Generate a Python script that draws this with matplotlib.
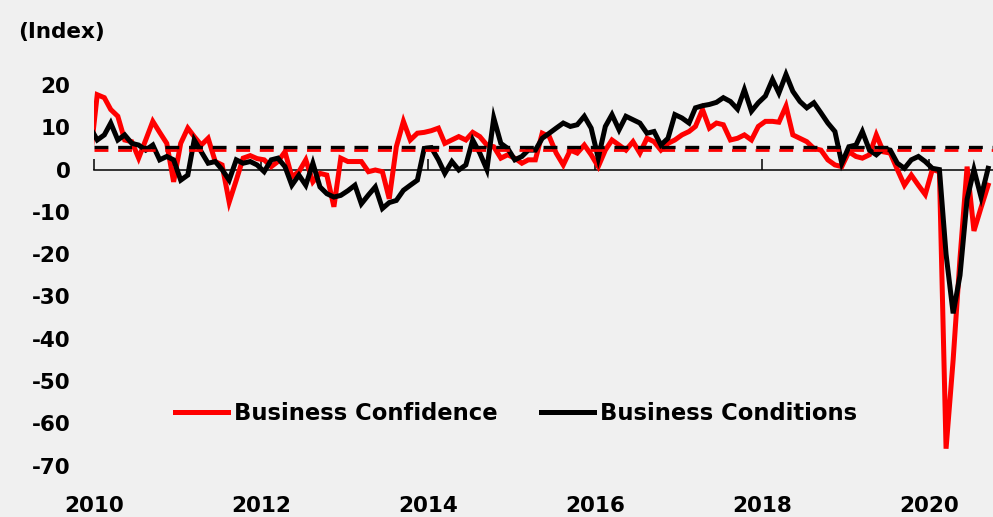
import matplotlib
matplotlib.use("Agg")
import matplotlib.pyplot as plt
import pandas as pd

# ── colours / fonts ───────────────────────────────────────────────────────────
C_BG    = "#f0f0f0"
C_CONF  = "#ff0000"
C_COND  = "#000000"
FONT    = "DejaVu Sans"
FS      = 15.5
FS_LEG  = 16.3

plt.rcParams["font.family"] = FONT
plt.rcParams["font.weight"] = "bold"
plt.rcParams["axes.unicode_minus"] = False

# ── data: monthly survey readings, Dec 2009 .. Sep 2020 ──────────────────────
start_month = "2009-12"
end_month   = "2020-09"

confidence = [
    2.5,
    17.7, 17.0, 14.2, 12.6, 7.0, 6.6, 2.7, 7.0, 11.4, 8.8, 6.2, -2.9,      # 2010
    6.2, 9.8, 7.8, 5.8, 7.4, 1.9, 1.1, -7.7, -2.5, 2.7, 3.3, 2.6,          # 2011
    2.3, 0.7, 1.9, 4.2, -1.7, -0.5, 2.3, -2.9, -0.9, -1.3, -8.8, 2.7,      # 2012
    1.9, 1.9, 1.9, -0.5, -0.1, -0.5, -6.9, 5.4, 11.4, 7.0, 8.6, 8.8,       # 2013
    9.2, 9.8, 6.2, 7.0, 7.8, 7.0, 8.8, 7.8, 5.8, 5.4, 2.7, 3.5,            # 2014
    2.7, 1.5, 2.3, 2.3, 8.6, 7.8, 3.9, 1.1, 4.6, 3.9, 5.8, 3.5,            # 2015
    0.7, 4.6, 7.0, 5.8, 4.6, 6.6, 3.9, 7.4, 6.6, 4.6, 6.2, 7.0,            # 2016
    8.2, 9.0, 10.2, 14.2, 9.8, 11.0, 10.6, 7.0, 7.4, 8.2, 7.0, 10.2,       # 2017
    11.4, 11.4, 11.2, 15.0, 8.2, 7.4, 6.6, 5.0, 4.6, 2.3, 1.1, 0.7,        # 2018
    4.2, 3.1, 2.7, 3.5, 8.2, 4.2, 3.9, 0.0, -3.7, -1.3, -3.7, -5.9,        # 2019
    0.0, -0.5, -66.0, -45.0, -21.0, 0.7, -14.5, -9.0, -3.7,                # 2020
]

conditions = [
    10.0,
    7.0, 8.2, 11.0, 7.0, 8.2, 6.2, 5.8, 4.6, 5.8, 2.3, 3.1, 2.3,           # 2010
    -2.5, -1.3, 7.0, 4.2, 1.5, 1.9, 0.0, -2.5, 2.3, 1.5, 1.9, 1.1,         # 2011
    -0.5, 2.3, 2.7, 0.7, -3.7, -1.3, -3.7, 1.5, -4.1, -5.7, -6.5, -6.1,    # 2012
    -5.0, -3.7, -8.1, -6.0, -4.1, -9.2, -7.8, -7.3, -4.9, -3.7, -2.5, 5.0, # 2013
    5.2, 2.3, -0.9, 1.9, -0.1, 1.1, 7.0, 3.9, 0.0, 12.2, 6.2, 5.0,         # 2014
    2.3, 3.1, 4.6, 4.6, 7.4, 8.6, 9.8, 11.0, 10.2, 10.6, 12.6, 9.8,        # 2015
    2.7, 10.2, 13.0, 9.4, 12.6, 11.8, 11.0, 8.6, 9.0, 5.8, 7.4, 13.0,      # 2016
    12.2, 11.0, 14.6, 15.1, 15.4, 15.9, 17.0, 16.1, 14.3, 18.9, 13.8, 15.8, # 2017
    17.4, 21.3, 18.1, 22.5, 18.5, 16.1, 14.6, 15.8, 13.4, 11.0, 9.0, 1.5,  # 2018
    5.4, 5.8, 9.0, 4.6, 3.5, 5.0, 4.6, 1.5, 0.3, 2.3, 3.1, 1.9,            # 2019
    0.3, 0.0, -20.0, -34.0, -25.0, -7.0, 0.0, -6.5, 0.3,                   # 2020
]

# long-run averages (dashed reference lines)
avg_conditions = 5.4
avg_confidence = 4.7

y_ticks     = [-70, -60, -50, -40, -30, -20, -10, 0, 10, 20]
year_ticks  = [2010, 2012, 2014, 2016, 2018, 2020]

# survey readings sit mid-month on the date axis
months = pd.period_range(start_month, end_month, freq="M")
dates = months.to_timestamp(how="start") + pd.Timedelta(days=14)


def make_figure():
    fig = plt.figure(figsize=(9.93, 5.17), dpi=100)
    fig.patch.set_facecolor(C_BG)
    ax = fig.add_axes([0.0947, 0.0994, 0.905, 0.818])
    ax.set_facecolor(C_BG)

    ax.plot(dates, confidence, color=C_CONF, lw=3.6, solid_joinstyle="miter",
            label="Business Confidence", zorder=3)
    ax.plot(dates, conditions, color=C_COND, lw=3.6, solid_joinstyle="miter",
            label="Business Conditions", zorder=4)

    # same dash rhythm so the red dashes peek out just under the black ones
    ax.axhline(avg_confidence, color=C_CONF, lw=2.0, dashes=(5, 3.5), zorder=5)
    ax.axhline(avg_conditions, color=C_COND, lw=2.4, dashes=(4.17, 2.92), zorder=6)

    ax.set_xlim(pd.Timestamp("2010-01-01"), pd.Timestamp("2020-10-05"))
    ax.set_ylim(-70, 30)

    # zero line doubles as the category axis, ticks pointing up
    for side in ("top", "right", "left"):
        ax.spines[side].set_visible(False)
    ax.spines["bottom"].set_position(("data", 0))
    ax.spines["bottom"].set_linewidth(1.1)
    ax.spines["bottom"].set_zorder(2)
    xt = [pd.Timestamp(f"{y}-01-01") for y in year_ticks]
    ax.set_xticks(xt)
    ax.tick_params(axis="x", direction="in", length=8, width=1.1,
                   labelbottom=False)

    # year labels sit below the plot area
    sec = ax.secondary_xaxis("bottom")
    sec.set_xticks(xt)
    sec.set_xticklabels([str(y) for y in year_ticks])
    sec.tick_params(length=0, pad=22, labelsize=FS)
    sec.spines["bottom"].set_visible(False)
    for lbl in sec.get_xticklabels():
        lbl.set_fontweight("bold")

    ax.set_yticks(y_ticks)
    ax.set_yticklabels([str(v) for v in y_ticks])
    ax.tick_params(axis="y", length=0, pad=17, labelsize=FS)
    for lbl in ax.get_yticklabels():
        lbl.set_fontweight("bold")

    fig.text(0.018, 0.938, "(Index)", fontsize=FS, fontweight="bold",
             ha="left", va="center")

    leg = ax.legend(loc="center left", bbox_to_anchor=(0.09, 0.124),
                    ncol=2, frameon=False, fontsize=FS_LEG,
                    handlelength=2.34, handletextpad=0.27, columnspacing=1.9,
                    borderaxespad=0, borderpad=0)
    for txt in leg.get_texts():
        txt.set_fontweight("bold")
    for line in leg.get_lines():
        line.set_linewidth(3.6)

    return fig


def main():
    fig = make_figure()
    fig.savefig("out.png", dpi=100, facecolor=fig.get_facecolor())
    plt.close(fig)


if __name__ == "__main__":
    main()
